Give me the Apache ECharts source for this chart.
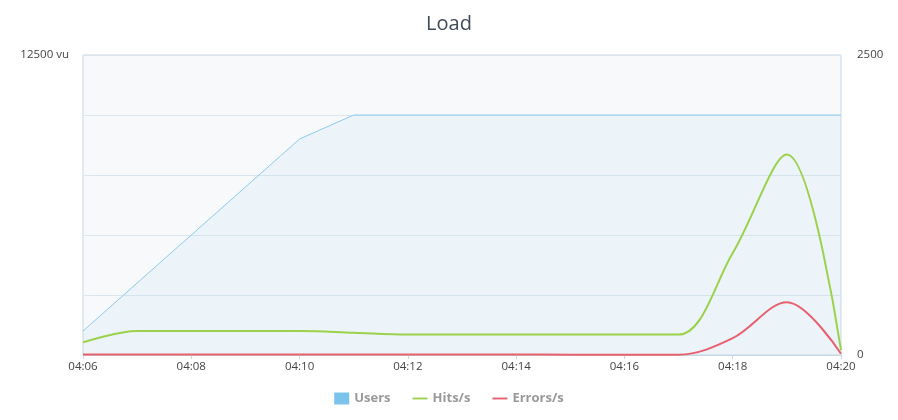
<!DOCTYPE html>
<html>
<head>
<meta charset="utf-8">
<script src="https://cdn.jsdelivr.net/npm/echarts@6/dist/echarts.min.js"></script>
<style>html,body{margin:0;padding:0;background:#fff;}#c{width:898px;height:420px;}</style>
</head>
<body>
<div id="c"></div>
<script>
var categories = ['04:06','04:07','04:08','04:09','04:10','04:11','04:12','04:13','04:14','04:15','04:16','04:17','04:18','04:19','04:20'];
var users =  [1000, 3000, 5000, 7000, 9000, 10000, 10000, 10000, 10000, 10000, 10000, 10000, 10000, 10000, 10000];
var hits =   [105, 200, 200, 200, 200, 185, 170, 170, 170, 170, 170, 170, 850, 1670, 40];
var errors = [5, 5, 5, 5, 5, 5, 5, 5, 5, 2, 2, 3, 140, 440, 10];
var leftTicks = [0, 12500, 2500];
var rightTicks = [0, 2500, 500];

var lineIcon = 'path://M0,0L16,0L16,2L0,2Z';
var chart = echarts.init(document.getElementById('c'), null, {renderer:'canvas'});
chart.setOption({
  animation: false,
  title: {text: 'Load', left: 'center', top: 9,
    textStyle: {fontFamily: 'Open Sans', fontSize: 20, fontWeight: 'normal', color: '#3e4a5a'}},
  grid: {left: 83, right: 57, top: 55, bottom: 65, show: true,
    backgroundColor: '#f7f9fb', borderColor: '#c9d8e5', borderWidth: 1},
  legend: {bottom: 10, left: 'center', itemWidth: 15, itemHeight: 12, itemGap: 22,
    textStyle: {fontFamily: 'Open Sans', fontSize: 13, fontWeight: 'bold', color: '#999'},
    data: [{name: 'Users', icon: 'rect'}, {name: 'Hits/s', icon: lineIcon}, {name: 'Errors/s', icon: lineIcon}]},
  xAxis: {type: 'category', data: categories, boundaryGap: false,
    axisLine: {lineStyle: {color: '#c9d8e5'}},
    axisTick: {show: true, interval: 1, length: 4, lineStyle: {color: '#c9d8e5'}},
    axisLabel: {interval: 1, color: '#444', fontFamily: 'Open Sans', fontSize: 11.5, margin: 6},
    splitLine: {show: false}},
  yAxis: [
    {type: 'value', min: leftTicks[0], max: leftTicks[1], interval: leftTicks[2],
      axisLine: {show: false}, axisTick: {show: false},
      splitLine: {lineStyle: {color: '#dde6ee'}},
      axisLabel: {color: '#444', fontFamily: 'Open Sans', fontSize: 11.5, margin: 14,
        formatter: function (v) { return v === leftTicks[1] ? v + ' vu' : ''; }}},
    {type: 'value', min: rightTicks[0], max: rightTicks[1], interval: rightTicks[2],
      axisLine: {show: false}, axisTick: {show: false}, splitLine: {show: false},
      axisLabel: {color: '#444', fontFamily: 'Open Sans', fontSize: 11.5, margin: 16,
        formatter: function (v) { return (v === rightTicks[0] || v === rightTicks[1]) ? String(v) : ''; }}}
  ],
  series: [
    {name: 'Users', type: 'line', yAxisIndex: 0, data: users, symbol: 'none',
      itemStyle: {color: '#7cc3ec'},
      lineStyle: {color: '#8ccbee', width: 1},
      areaStyle: {color: 'rgba(124,195,236,0.12)'}, z: 1},
    {name: 'Hits/s', type: 'line', yAxisIndex: 1, data: hits, symbol: 'none', smooth: 0.35,
      itemStyle: {color: '#9bd14b'}, lineStyle: {color: '#9bd14b', width: 2}, z: 3},
    {name: 'Errors/s', type: 'line', yAxisIndex: 1, data: errors, symbol: 'none', smooth: 0.35,
      itemStyle: {color: '#e8606e'}, lineStyle: {color: '#e8606e', width: 2}, z: 2}
  ]
});
</script>
</body>
</html>
